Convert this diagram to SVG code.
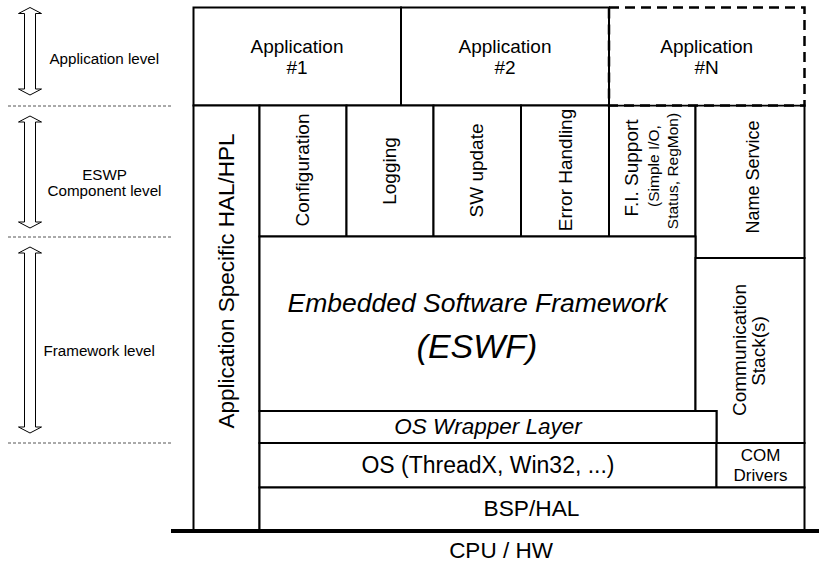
<svg xmlns="http://www.w3.org/2000/svg" width="819" height="562" viewBox="0 0 819 562">
  <style>
    text { font-family: "Liberation Sans", Arial, sans-serif; fill: #000; }
    .box { fill: #fff; stroke: #000; stroke-width: 2; }
    .dash-box { fill: none; stroke: #000; stroke-width: 2.5; stroke-dasharray: 10 6; }
    .level { fill: #fff; stroke: #000; stroke-width: 1; stroke-linejoin: miter; }
    .sep { stroke: #555; stroke-width: 1; stroke-dasharray: 3 2; }
    .lvl-text { font-size: 15.2px; text-anchor: middle; }
    .app { font-size: 19px; text-anchor: middle; }
    .comp { font-size: 19px; text-anchor: middle; }
    .small { font-size: 15.5px; text-anchor: middle; }
    .layer { font-size: 23px; text-anchor: middle; }
    .it { font-style: italic; }
  </style>

  <!-- level markers on the left -->
  <g id="level-application">
    <polygon class="level" points="30,7.5 41.5,13.5 35.5,13.5 35.5,89 41.5,89 30,95 18.5,89 24.5,89 24.5,13.5 18.5,13.5"/>
    <text class="lvl-text" x="104.3" y="64">Application level</text>
  </g>
  <g id="level-component">
    <polygon class="level" points="30,116 41.5,122 35.5,122 35.5,222 41.5,222 30,228 18.5,222 24.5,222 24.5,122 18.5,122"/>
    <text class="lvl-text" x="104.5" y="179.5">ESWP</text>
    <text class="lvl-text" x="104.5" y="196">Component level</text>
  </g>
  <g id="level-framework">
    <polygon class="level" points="30,247 41.5,253 35.5,253 35.5,427 41.5,427 30,433 18.5,427 24.5,427 24.5,253 18.5,253"/>
    <text class="lvl-text" x="99.2" y="356">Framework level</text>
  </g>
  <g id="level-separators">
    <line class="sep" x1="8" y1="106" x2="172" y2="106"/>
    <line class="sep" x1="8" y1="237" x2="172" y2="237"/>
    <line class="sep" x1="8" y1="443" x2="172" y2="443"/>
  </g>

  <!-- application row -->
  <g id="app1">
    <rect class="box" x="193.5" y="7.5" width="207.5" height="98"/>
    <text class="app" x="297" y="52.5">Application</text>
    <text class="app" x="297" y="74">#1</text>
  </g>
  <g id="app2">
    <rect class="box" x="401" y="7.5" width="208" height="98"/>
    <text class="app" x="505" y="52.5">Application</text>
    <text class="app" x="505" y="74">#2</text>
  </g>

  <!-- platform-specific HAL column -->
  <g id="hal-hpl">
    <rect class="box" x="193.5" y="105.5" width="66" height="424.5"/>
    <text class="comp" style="font-size:22.5px" transform="translate(233.5,281) rotate(-90)">Application Specific HAL/HPL</text>
  </g>

  <!-- ESWP components -->
  <g id="configuration">
    <rect class="box" x="259.5" y="105.5" width="87" height="131"/>
    <text class="comp" transform="translate(309,170) rotate(-90)">Configuration</text>
  </g>
  <g id="logging">
    <rect class="box" x="346.5" y="105.5" width="87" height="131"/>
    <text class="comp" transform="translate(395.8,171) rotate(-90)">Logging</text>
  </g>
  <g id="sw-update">
    <rect class="box" x="433.5" y="105.5" width="87.5" height="131"/>
    <text class="comp" transform="translate(483,170.5) rotate(-90)">SW update</text>
  </g>
  <g id="error-handling">
    <rect class="box" x="521" y="105.5" width="88" height="131"/>
    <text class="comp" transform="translate(571.5,170) rotate(-90)">Error Handling</text>
  </g>
  <g id="fi-support">
    <rect class="box" x="609" y="105.5" width="86.5" height="131"/>
    <text class="comp" transform="translate(638,168) rotate(-90)">F.I. Support</text>
    <text class="small" transform="translate(658.5,166) rotate(-90)">(Simple I/O,</text>
    <text class="small" transform="translate(678,171) rotate(-90)">Status, RegMon)</text>
  </g>
  <g id="name-service">
    <rect class="box" x="695.5" y="105.5" width="109" height="152.5"/>
    <text class="comp" style="font-size:18px" transform="translate(759,177) rotate(-90)">Name Service</text>
  </g>

  <!-- framework core -->
  <g id="eswf">
    <rect class="box" x="259.5" y="236.5" width="436" height="174.5"/>
    <text class="it" style="font-size:26.5px;text-anchor:middle" x="477.5" y="312">Embedded Software Framework</text>
    <text class="it" style="font-size:34px;text-anchor:middle" x="477" y="357.5">(ESWF)</text>
  </g>
  <g id="comm-stack">
    <path class="box" d="M695.5,258 H804.5 V443 H716.5 V411 H695.5 Z"/>
    <text class="comp" transform="translate(745.5,350) rotate(-90)">Communication</text>
    <text class="comp" transform="translate(765,351) rotate(-90)">Stack(s)</text>
  </g>
  <g id="os-wrapper">
    <rect class="box" x="259.5" y="411" width="457" height="32"/>
    <text class="layer it" style="font-size:22.5px" x="488" y="434.3">OS Wrapper Layer</text>
  </g>
  <g id="os">
    <rect class="box" x="259.5" y="443" width="457" height="44.5"/>
    <text class="layer" x="488" y="472.7">OS (ThreadX, Win32, ...)</text>
  </g>
  <g id="com-drivers">
    <rect class="box" x="716.5" y="443" width="88" height="44.5"/>
    <text style="font-size:17px;text-anchor:middle" x="760.5" y="460.7">COM</text>
    <text style="font-size:17px;text-anchor:middle" x="760.5" y="480.7">Drivers</text>
  </g>
  <g id="bsp-hal">
    <rect class="box" x="259.5" y="487.5" width="545" height="42.5"/>
    <text class="layer" style="font-size:22.7px" x="531.5" y="516">BSP/HAL</text>
  </g>

  <!-- optional further application, drawn dashed on top -->
  <g id="appN">
    <rect fill="#fff" stroke="none" x="610" y="8.5" width="193.5" height="96"/>
    <line x1="609" y1="105.5" x2="804.5" y2="105.5" stroke="#000" stroke-width="1"/>
    <line x1="609" y1="7.5" x2="609" y2="105.5" stroke="#000" stroke-width="1"/>
    <rect class="dash-box" x="609" y="7.5" width="195.5" height="98"/>
    <text class="app" x="706.7" y="52.5">Application</text>
    <text class="app" x="706.7" y="74">#N</text>
  </g>

  <!-- hardware base -->
  <g id="cpu-hw">
    <line x1="171" y1="531" x2="819" y2="531" stroke="#000" stroke-width="4"/>
    <text class="layer" style="font-size:22.5px" x="501" y="557.7">CPU / HW</text>
  </g>
</svg>
